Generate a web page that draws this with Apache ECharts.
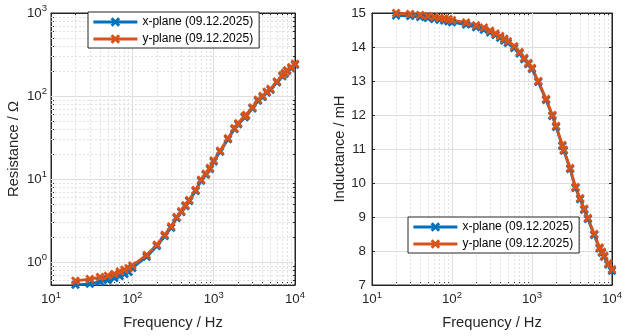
<!DOCTYPE html>
<html><head><meta charset="utf-8">
<script src="https://cdn.jsdelivr.net/npm/echarts@6/dist/echarts.min.js"></script>
<style>html,body{margin:0;padding:0;background:#fff}#c{width:625px;height:336px}</style>
</head><body><div id="c"></div>
<script>
// ---- data ----
const freq = [20,30,40,50,60,70,80,90,100,150,200,250,300,350,400,450,500,600,700,800,900,1000,1200,1500,1800,2000,2400,2500,3000,3500,4000,4500,5000,6000,7000,7500,8000,9000,10000];
const resX = [0.533,0.548,0.58,0.61,0.645,0.68,0.72,0.76,0.85,1.16,1.56,2.06,2.6,3.4,4.0,4.72,5.45,7.2,9.55,11.3,13.2,16.3,21.4,30.2,40,45.8,55.5,57.5,71,87.5,97.5,110,119,146,173,185,200,216,238];
const resY = [0.595,0.624,0.66,0.684,0.72,0.77,0.81,0.846,0.91,1.22,1.62,2.13,2.69,3.5,4.1,4.85,5.6,7.4,9.8,11.6,13.6,16.7,22,31,41,47,57,59,73,90,100,113,122,150,178,190,205,222,245];
const indX = [14.93,14.91,14.88,14.85,14.82,14.8,14.78,14.76,14.73,14.66,14.58,14.51,14.43,14.35,14.27,14.19,14.12,13.97,13.81,13.64,13.5,13.35,12.97,12.44,11.97,11.65,11.09,10.95,10.41,9.85,9.52,9.21,8.94,8.47,8.07,7.95,7.83,7.6,7.42];
const indY = [15.0,14.97,14.94,14.91,14.88,14.86,14.84,14.82,14.79,14.72,14.64,14.57,14.48,14.4,14.32,14.24,14.17,14.02,13.85,13.68,13.53,13.38,13.0,12.47,12.0,11.68,11.12,10.98,10.44,9.88,9.55,9.24,8.97,8.5,8.1,7.98,7.86,7.63,7.46];
const seriesNames = ['x-plane (09.12.2025)', 'y-plane (09.12.2025)'];
const freqMajor = [10,100,1000,10000];
const freqMinor = [20,30,40,50,60,70,80,90,200,300,400,500,600,700,800,900,2000,3000,4000,5000,6000,7000,8000,9000];
const resMajor = [1,10,100,1000];
const resMinor = [0.6,0.7,0.8,0.9,2,3,4,5,6,7,8,9,20,30,40,50,60,70,80,90,200,300,400,500,600,700,800,900];
const freqRange = [10, 10000];
const resRange = [0.53, 1000];
const indRange = [7, 15];
const indStep = 1;
const xTitle = 'Frequency / Hz';
const resTitle = 'Resistance / \u03A9';
const indTitle = 'Inductance / mH';

// ---- style ----
const F = '"Liberation Sans", Arial, Helvetica, sans-serif';
const AX = '#262626';
const C = ['#0072BD', '#D95319'];
const MAJ = {color:'#dedede', width:1, type:'solid'};
const MIN = {color:'#e0e0e0', width:1, type:[2,2]};
const XMARK = 'path://M0,2.2L2.2,0L5,2.8L7.8,0L10,2.2L7.2,5L10,7.8L7.8,10L5,7.2L2.2,10L0,7.8L2.8,5Z';

function pow10(v){
  const e = Math.log10(v), r = Math.round(e);
  if (Math.abs(e - r) > 1e-6) return '';
  return '{b|10}{s|' + r + '}';
}
const rich = {
  b:{fontSize:13.3, color:AX, fontFamily:F},
  s:{fontSize:9.5, color:AX, fontFamily:F, padding:[0,0,9,0]}
};
const tick = (vals) => ({show:true, inside:true, length:3, customValues: vals, lineStyle:{color:AX, width:1}});
const hidden = {show:false};

function xAxes(g){
  return [
    {type:'log', logBase:10, gridIndex:g, min:freqRange[0], max:freqRange[1], position:'bottom',
     axisLine:{show:true, lineStyle:{color:AX}}, axisTick:tick(freqMajor.concat(freqMinor)),
     axisLabel:{formatter:pow10, rich:rich, margin:5, showMinLabel:true, showMaxLabel:true},
     splitLine:hidden, minorTick:hidden, minorSplitLine:hidden,
     name:xTitle, nameLocation:'middle', nameGap:30,
     nameTextStyle:{fontSize:14.7, color:AX, fontFamily:F}},
    {type:'log', logBase:10, gridIndex:g, min:freqRange[0], max:freqRange[1], position:'top',
     axisLine:{show:true, lineStyle:{color:AX}}, axisTick:tick(freqMajor.concat(freqMinor)),
     axisLabel:hidden, splitLine:hidden}
  ];
}

const option = {
  animation:false,
  backgroundColor:'#fff',
  textStyle:{fontFamily:F},
  grid:[
    {left:51, top:13, width:244, height:272, show:true, borderColor:AX, borderWidth:1, backgroundColor:'transparent'},
    {left:372, top:13, width:244, height:272, show:true, borderColor:AX, borderWidth:1, backgroundColor:'transparent'}
  ],
  legend:[0,1].map(i => ({
    left: i===0 ? 88 : 408, top: i===0 ? 12 : 217, z:10,
    orient:'vertical', data:seriesNames,
    backgroundColor:'#fff', borderColor:AX, borderWidth:1, borderRadius:0,
    padding:[4,6,3,4], itemGap:5, itemWidth:44, itemHeight:12,
    lineStyle:{width:2.8},
    textStyle:{fontSize:12, color:'#000', fontFamily:F},
    selectedMode:false
  })),
  xAxis: xAxes(0).concat(xAxes(1)),
  yAxis:[
    {type:'log', logBase:10, gridIndex:0, min:resRange[0], max:resRange[1], position:'left',
     axisLine:{show:true, lineStyle:{color:AX}}, axisTick:tick(resMajor.concat(resMinor)),
     axisLabel:{formatter:pow10, rich:rich, margin:4, showMinLabel:true, showMaxLabel:true},
     splitLine:hidden,
     name:resTitle, nameLocation:'middle', nameGap:30,
     nameTextStyle:{fontSize:14.7, color:AX, fontFamily:F}},
    {type:'log', logBase:10, gridIndex:0, min:resRange[0], max:resRange[1], position:'right',
     axisLine:{show:true, lineStyle:{color:AX}}, axisTick:tick(resMajor.concat(resMinor)),
     axisLabel:hidden, splitLine:hidden},
    {type:'value', gridIndex:1, min:indRange[0], max:indRange[1], interval:indStep, position:'left',
     axisLine:{show:true, lineStyle:{color:AX}}, axisTick:{show:true, inside:true, length:3, lineStyle:{color:AX}},
     axisLabel:{fontSize:13.3, color:AX, fontFamily:F, margin:6},
     splitLine:{show:true, lineStyle:MAJ},
     name:indTitle, nameLocation:'middle', nameGap:24,
     nameTextStyle:{fontSize:14.7, color:AX, fontFamily:F}},
    {type:'value', gridIndex:1, min:indRange[0], max:indRange[1], interval:indStep, position:'right',
     axisLine:{show:true, lineStyle:{color:AX}}, axisTick:{show:true, inside:true, length:3, lineStyle:{color:AX}},
     axisLabel:hidden, splitLine:hidden}
  ],
  series:[]
};

// grid lines via markLine (drawn behind data)
function gridSeries(xi, yi, xMaj, xMin, yMaj, yMin){
  const d = [];
  xMin.forEach(v => d.push({xAxis:v, lineStyle:MIN}));
  yMin.forEach(v => d.push({yAxis:v, lineStyle:MIN}));
  xMaj.forEach(v => d.push({xAxis:v, lineStyle:MAJ}));
  yMaj.forEach(v => d.push({yAxis:v, lineStyle:MAJ}));
  return {type:'line', xAxisIndex:xi, yAxisIndex:yi, data:[], z:1, silent:true,
    markLine:{silent:true, z:1, symbol:['none','none'], label:{show:false}, animation:false, data:d}};
}
const inner = (arr, r) => arr.filter(v => v > r[0] && v < r[1]);
option.series.push(gridSeries(0, 0, inner(freqMajor,freqRange), freqMinor, inner(resMajor,resRange), inner(resMinor,resRange)));
option.series.push(gridSeries(2, 2, inner(freqMajor,freqRange), freqMinor, [], []));

function dataSeries(name, color, xi, yi, vals){
  return {name:name, type:'line', xAxisIndex:xi, yAxisIndex:yi, z:3,
    data: freq.map((f,i) => [f, vals[i]]),
    symbol:XMARK, symbolSize:9, showSymbol:true,
    lineStyle:{color:color, width:2.8}, itemStyle:{color:color},
    emphasis:{disabled:true}};
}
option.series.push(dataSeries(seriesNames[0], C[0], 0, 0, resX));
option.series.push(dataSeries(seriesNames[1], C[1], 0, 0, resY));
option.series.push(dataSeries(seriesNames[0], C[0], 2, 2, indX));
option.series.push(dataSeries(seriesNames[1], C[1], 2, 2, indY));

const chart = echarts.init(document.getElementById('c'), null, {renderer:'canvas'});
chart.setOption(option);
</script>
</body></html>
